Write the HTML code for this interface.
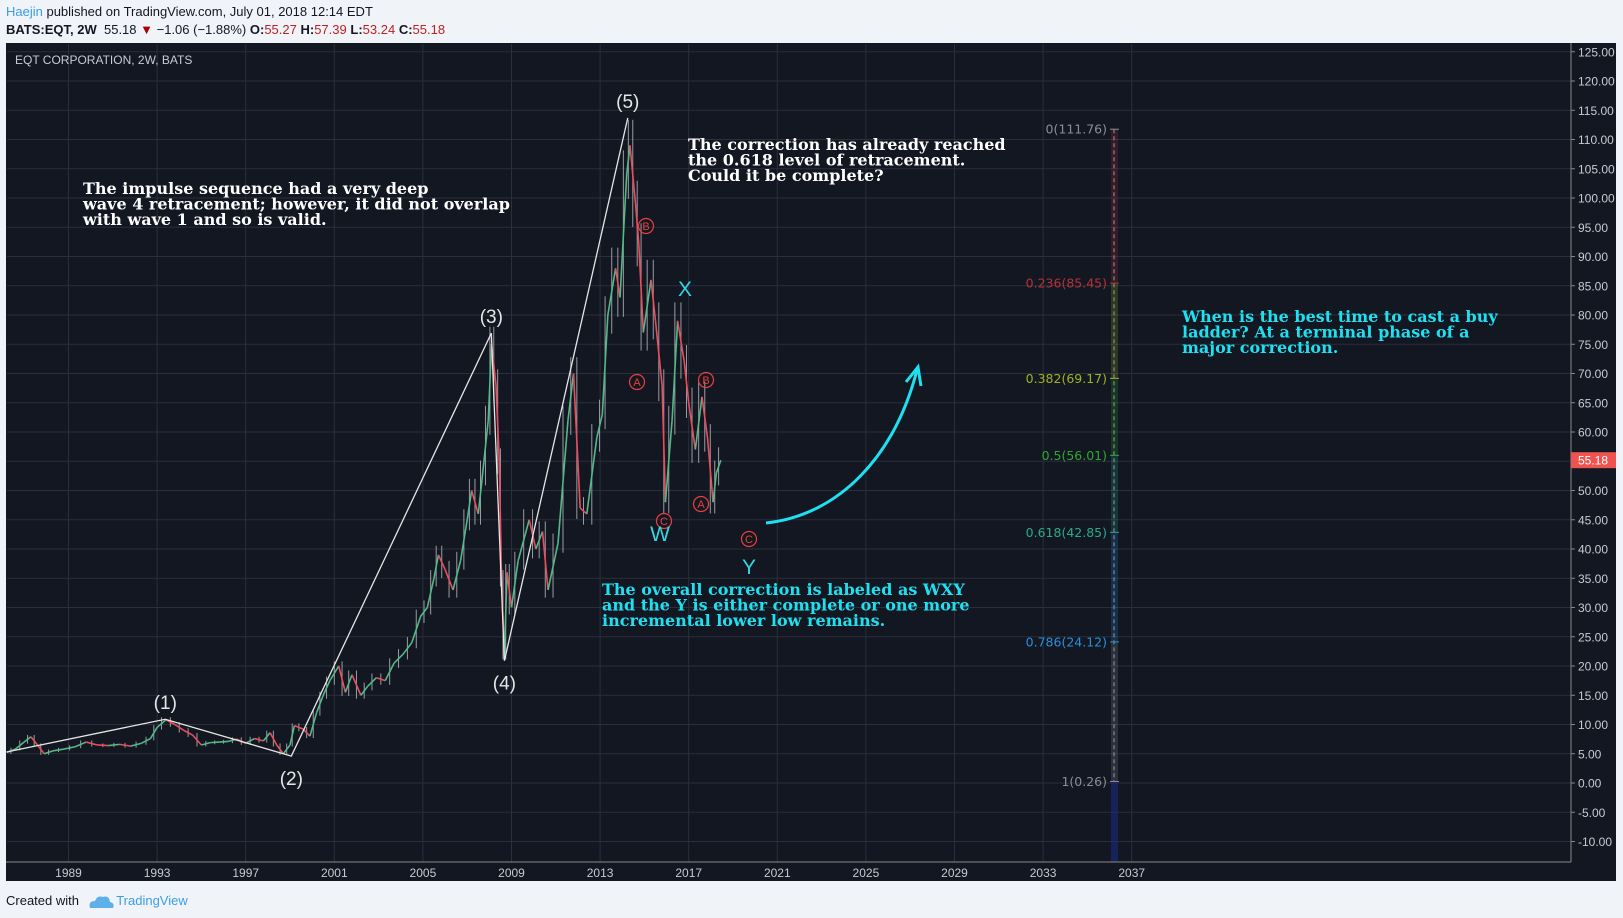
<!DOCTYPE html>
<html><head><meta charset="utf-8"><style>
html,body{margin:0;padding:0;background:#f0f3f7;width:1623px;height:918px;overflow:hidden;font-family:"Liberation Sans",sans-serif}
svg{position:absolute;left:0;top:0}
.hdr{position:absolute;left:6px;font-size:13px;color:#131722;white-space:nowrap}
</style></head><body>
<div class="hdr" style="top:4px"><span style="color:#3a9ee8">Haejin</span> published on TradingView.com, July 01, 2018 12:14 EDT</div>
<div class="hdr" style="top:22px"><b>BATS:EQT, 2W</b>&nbsp; 55.18 <span style="color:#a00">▼</span> −1.06 (−1.88%) <b>O:</b><span style="color:#b22">55.27</span> <b>H:</b><span style="color:#b22">57.39</span> <b>L:</b><span style="color:#b22">53.24</span> <b>C:</b><span style="color:#b22">55.18</span></div>
<svg id="chart" width="1623" height="918"></svg>
<div class="hdr" style="top:893px;font-size:13px">Created with &nbsp;<span style="color:#3a9ee8;margin-left:30px">TradingView</span></div>
<svg width="30" height="20" style="left:86px;top:892px"><path d="M4 16 Q2 9 9 9 Q11 3 17 5 Q23 3 24 10 Q29 11 27 16 Z" fill="#5eb0e8"/></svg>
<script>
const dates=[1986.2,1986.6,1987.0,1987.3,1987.6,1987.9,1988.3,1988.8,1989.3,1989.8,1990.3,1990.8,1991.3,1991.8,1992.3,1992.7,1993.0,1993.4,1993.8,1994.2,1994.6,1995.0,1995.4,1995.8,1996.2,1996.6,1997.0,1997.4,1997.8,1998.1,1998.4,1998.7,1999.0,1999.2,1999.6,1999.9,2000.2,2000.5,2000.8,2001.2,2001.5,2001.8,2002.2,2002.5,2002.9,2003.3,2003.7,2004.1,2004.5,2004.9,2005.2,2005.5,2005.7,2006.0,2006.36,2006.7,2007.0,2007.2,2007.5,2007.7,2007.95,2008.1,2008.3,2008.45,2008.55,2008.68,2008.8,2009.0,2009.3,2009.8,2010.1,2010.4,2010.65,2011.1,2011.55,2011.8,2012.1,2012.4,2012.85,2013.1,2013.35,2013.7,2013.9,2014.2,2014.35,2014.6,2014.75,2014.95,2015.3,2015.5,2015.8,2015.95,2016.25,2016.5,2016.8,2017.0,2017.3,2017.6,2017.85,2018.1,2018.25,2018.45];
const closes=[5.2,5.8,7.0,7.9,6.5,5.0,5.5,5.8,6.2,7.0,6.5,6.4,6.6,6.3,6.8,7.6,9.5,10.8,10.0,9.0,8.2,6.5,6.9,7.0,7.1,7.5,6.8,7.6,7.2,8.6,6.5,5.0,6.5,9.8,9.2,8.0,12.0,15.0,17.5,20.0,15.5,18.5,15.0,16.5,18.0,17.5,20.5,22.0,24.0,28.5,30.0,35.0,39.0,36.5,33.0,38.0,45.0,50.0,46.0,53.0,62.0,75.0,68.0,55.0,35.0,22.0,36.0,30.0,38.0,45.0,40.0,43.0,33.0,41.0,62.0,70.0,47.0,46.0,59.0,63.0,80.0,88.0,83.0,104.0,109.0,99.0,92.0,77.0,86.0,79.0,68.0,48.0,62.0,79.0,72.0,65.0,57.0,66.0,59.0,48.0,53.0,55.18];
const yTicks=[125,120,115,110,105,100,95,90,85,80,75,70,65,60,55,50,45,40,35,30,25,20,15,10,5,0,-5,-10];
const xTicks=[1989,1993,1997,2001,2005,2009,2013,2017,2021,2025,2029,2033,2037];
const waveDates=[1986.2,1993.37,1999.06,2008.09,2008.68,2014.25];
const waveValues=[5.3,10.9,4.6,76.9,20.9,113.7];
const waveLabels=["","(1)","(2)","(3)","(4)","(5)"];
const fibRatios=[0,0.236,0.382,0.5,0.618,0.786,1];
const fibPrices=[111.76,85.45,69.17,56.01,42.85,24.12,0.26];
const fibColors=["#8a8d96","#b5313a","#9fb21e","#2ea82e","#26ab8e","#2a8fd8","#8a8d96"];
const lastPrice=55.18;

const S=document.getElementById('chart');const NS='http://www.w3.org/2000/svg';
const X=y=>68.5+(y-1989)*22.15;
const Y=v=>783-v*5.85;
function mk(t,a,p){const e=document.createElementNS(NS,t);for(const k in a)e.setAttribute(k,a[k]);(p||S).appendChild(e);return e;}
let e;
e=mk('rect',{x:6,y:43,width:1610,height:838,fill:'#131722'});


const clip=mk('clipPath',{id:'pc'});mk('rect',{x:7,y:44,width:1564,height:818},clip);
yTicks.forEach(v=>{
 e=mk('line',{x1:7,x2:1571,y1:Y(v),y2:Y(v),stroke:'#2b2f3b','stroke-width':1});
 
 
 mk('line',{x1:1571,x2:1575,y1:Y(v),y2:Y(v),stroke:'#888'});
 e=mk('text',{x:1578,y:Y(v)+4.5,fill:'#c8cad0','font-size':12,'font-family':'Liberation Sans, sans-serif'});e.textContent=v.toFixed(2);
 
 
});
xTicks.forEach(t=>{
 e=mk('line',{x1:X(t),x2:X(t),y1:44,y2:862,stroke:'#2b2f3b'});
 
 
 e=mk('text',{x:X(t),y:877,fill:'#c8cad0','font-size':12,'text-anchor':'middle','font-family':'Liberation Sans, sans-serif'});e.textContent=t;
 
 
});
mk('line',{x1:1571,x2:1571,y1:43,y2:862,stroke:'#888'});
mk('line',{x1:6,x2:1571,y1:862,y2:862,stroke:'#888'});
e=mk('text',{x:15,y:64,fill:'#c8cad0','font-size':12});e.textContent='EQT CORPORATION, 2W, BATS';


const fg=mk('g',{});


for(let i=0;i<fibPrices.length-1;i++){
 mk('rect',{x:1111,y:Y(fibPrices[i]),width:7,height:Y(fibPrices[i+1])-Y(fibPrices[i]),fill:fibColors[i+1],opacity:0.22},fg);
}
mk('rect',{x:1111,y:Y(0.26),width:7,height:Y(-10)-Y(0.26)+20,fill:'#1c2a80',opacity:0.6},fg);
mk('line',{x1:1114,x2:1114,y1:Y(fibPrices[0]),y2:Y(0.26),stroke:'#9a9aa0','stroke-dasharray':'4,3'},fg);
fibRatios.forEach((r,i)=>{
 mk('line',{x1:1110,x2:1119,y1:Y(fibPrices[i]),y2:Y(fibPrices[i]),stroke:fibColors[i]},fg);
 e=mk('text',{x:1107,y:Y(fibPrices[i])+4.5,fill:fibColors[i],'font-size':12.5,'text-anchor':'end','font-family':'DejaVu Sans, sans-serif'},fg);
 e.textContent=r+'('+fibPrices[i].toFixed(2)+')';
 
 
});
const pg=mk('g',{'clip-path':'url(#pc)'});


for(let i=1;i<dates.length;i++){
 const up=closes[i]>=closes[i-1];
 const hi=Math.max(closes[i],closes[i-1])*1.04, lo=Math.min(closes[i],closes[i-1])*0.96;
 e=mk('line',{x1:(X(dates[i])+X(dates[i-1]))/2,x2:(X(dates[i])+X(dates[i-1]))/2,y1:Y(hi),y2:Y(lo),stroke:'#9a9ca3','stroke-width':1},pg);
 
 
 e=mk('line',{x1:X(dates[i-1]),y1:Y(closes[i-1]),x2:X(dates[i]),y2:Y(closes[i]),stroke:up?'#53b987':'#eb4d5c','stroke-width':1.6},pg);
 
 
}
e=mk('polyline',{points:waveDates.map((d,i)=>X(d)+','+Y(waveValues[i])).join(' '),fill:'none',stroke:'#e6e6e6','stroke-width':1.3});


waveLabels.forEach((l,i)=>{if(!l)return;
 const below=(i==2||i==4);
 e=mk('text',{x:X(waveDates[i]),y:below?Y(waveValues[i])+29:Y(waveValues[i])-10,fill:'#e6e6e6','font-size':19,'text-anchor':'middle'});e.textContent=l;
 
 
});
[['B',646,226],['A',637,382],['C',664,521],['B',706,380],['A',701,504],['C',749,539]].forEach(c=>{
 const g=mk('g',{});
 
 
 mk('circle',{cx:c[1],cy:c[2],r:7.5,fill:'none',stroke:'#e8403c','stroke-width':1.2},g);
 const t=mk('text',{x:c[1],y:c[2]+4,fill:'#e8403c','font-size':11,'text-anchor':'middle'},g);t.textContent=c[0];
});
[['W',660,541],['X',685,296],['Y',749,574]].forEach(c=>{
 e=mk('text',{x:c[1],y:c[2],fill:'#33d6e0','font-size':21,'text-anchor':'middle'});e.textContent=c[0];
 
 
});
e=mk('path',{d:'M766,523 C840,515 895,455 917,370',fill:'none',stroke:'#1fe0f0','stroke-width':3});


mk('path',{d:'M906,382 L918,367 L921,386',fill:'none',stroke:'#1fe0f0','stroke-width':3});
function note(lines,x,y,col,name){
 const t=mk('text',{x:x,y:y,fill:col,'font-size':16,'font-weight':'bold','font-family':'DejaVu Serif, serif'});
 
 
 lines.forEach((l,i)=>{const s=mk('tspan',{x:x,dy:i?15.5:0},t);s.textContent=l;});
}
note(['The impulse sequence had a very deep','wave 4 retracement; however, it did not overlap','with wave 1 and so is valid.'],83,194,'#ffffff','impulse-note');
note(['The correction has already reached','the 0.618 level of retracement.','Could it be complete?'],688,150,'#ffffff','correction-note');
note(['When is the best time to cast a buy','ladder? At a terminal phase of a','major correction.'],1182,322,'#1fe0f0','buy-ladder-note');
note(['The overall correction is labeled as WXY','and the Y is either complete or one more','incremental lower low remains.'],602,595,'#1fe0f0','wxy-note');
e=mk('rect',{x:1571,y:Y(lastPrice)-8,width:45,height:16,fill:'#ef5350'});


e=mk('text',{x:1578,y:Y(lastPrice)+4.5,fill:'#fff','font-size':12});e.textContent=lastPrice.toFixed(2);
</script>
</body></html>
